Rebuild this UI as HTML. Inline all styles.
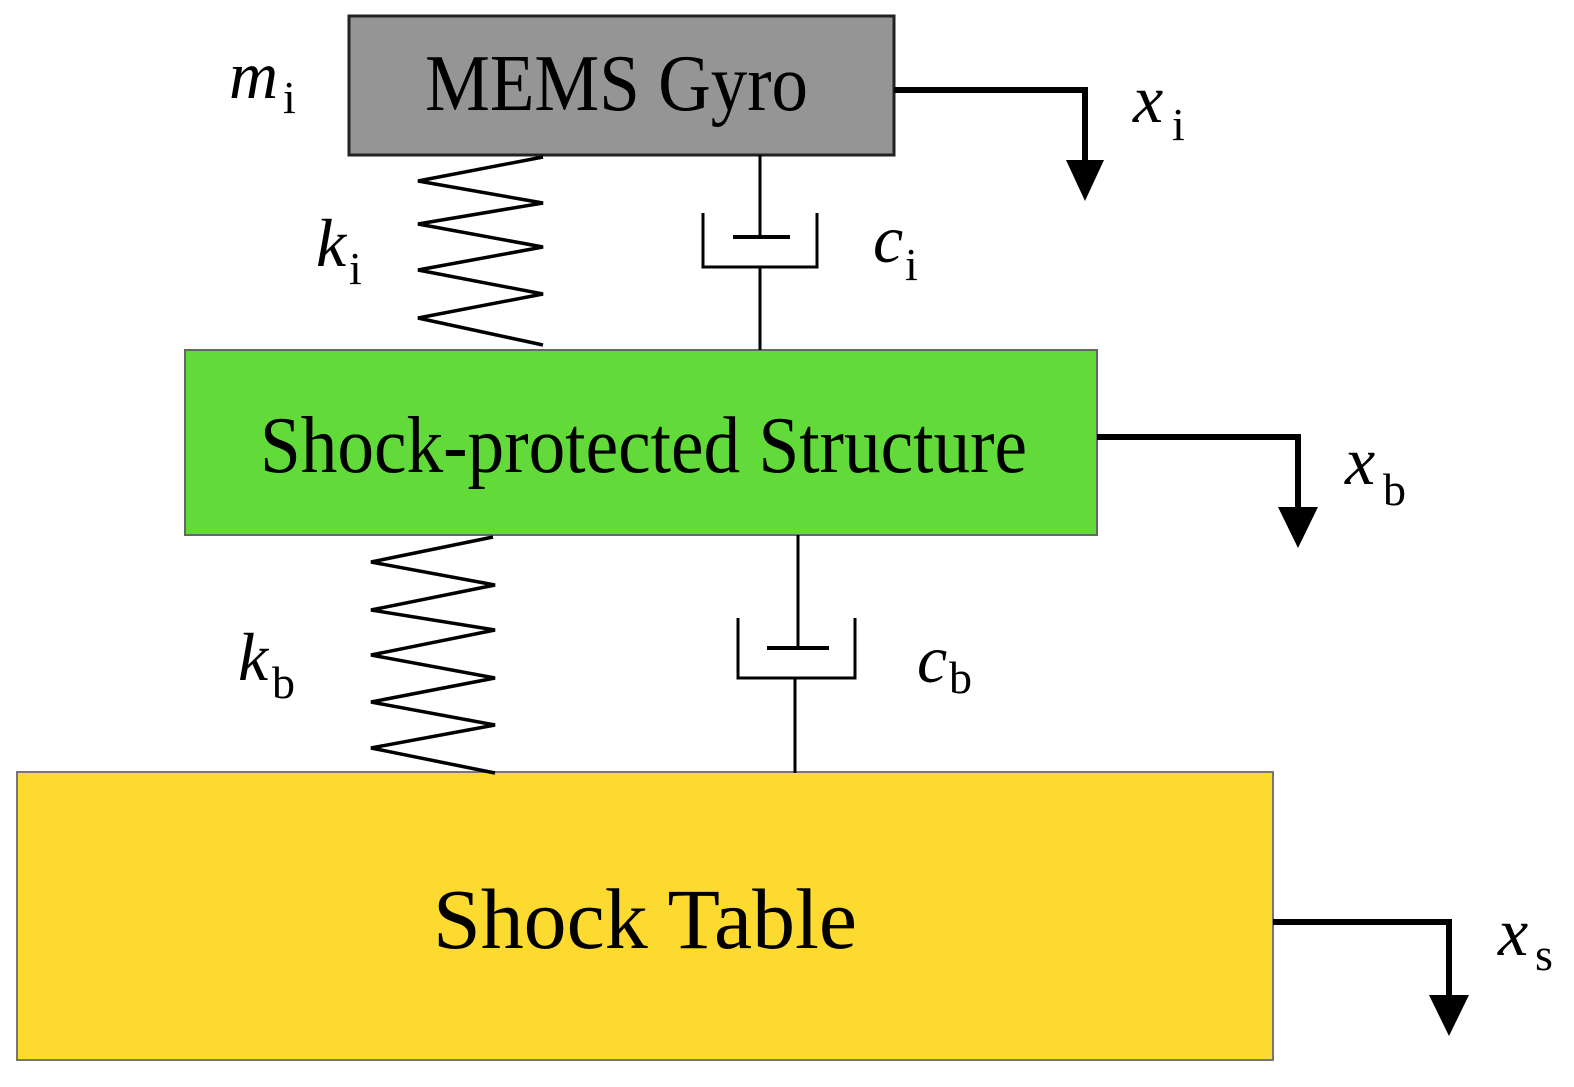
<!DOCTYPE html>
<html><head><meta charset="utf-8"><style>
html,body{margin:0;padding:0;background:#fff;}
svg{display:block;}
text{font-family:"Liberation Serif",serif;fill:#000;}
.it{font-style:italic;}
</style></head><body>
<svg width="1574" height="1087" viewBox="0 0 1574 1087" xmlns="http://www.w3.org/2000/svg">
<rect x="0" y="0" width="1574" height="1087" fill="#fff"/>
<rect x="349" y="16" width="545" height="139" fill="#959595" stroke="#222" stroke-width="3"/>
<rect x="185" y="350" width="912" height="185" fill="#62db3a" stroke="#666" stroke-width="2"/>
<rect x="17" y="772" width="1256" height="288" fill="#fdda30" stroke="#777" stroke-width="2"/>
<text x="425" y="110" font-size="80" textLength="383" lengthAdjust="spacingAndGlyphs">MEMS Gyro</text>
<text x="260" y="472" font-size="80" textLength="767" lengthAdjust="spacingAndGlyphs">Shock-protected Structure</text>
<text x="433" y="948" font-size="86" textLength="424" lengthAdjust="spacingAndGlyphs">Shock Table</text>
<polyline fill="none" stroke="#000" stroke-width="3.5" points="543,157 418,181 543,203 418,224 543,247 418,270 543,294 418,318 543,345"/>
<polyline fill="none" stroke="#000" stroke-width="3.5" points="493,537 371,562 495,585 371,610 495,630 371,655 495,678 371,702 495,725 371,748 495,773"/>
<g stroke="#000" stroke-width="3" fill="none">
<line x1="760" y1="155" x2="760" y2="237"/>
<line x1="733" y1="237" x2="790" y2="237" stroke-width="4"/>
<polyline points="703,213 703,267 817,267 817,213"/>
<line x1="760" y1="267" x2="760" y2="350"/>
<line x1="798" y1="535" x2="798" y2="648"/>
<line x1="767" y1="648" x2="829" y2="648" stroke-width="4"/>
<polyline points="738,618 738,678 855,678 855,618"/>
<line x1="795" y1="678" x2="795" y2="773"/>
</g>
<g stroke="#000" stroke-width="6" fill="none">
<polyline points="894,90 1085,90 1085,165"/>
<polyline points="1097,437 1298,437 1298,510"/>
<polyline points="1273,922 1449,922 1449,998"/>
</g>
<polygon points="1066,160 1104,160 1085,201" fill="#000"/>
<polygon points="1278,507 1318,507 1298,548" fill="#000"/>
<polygon points="1429,995 1469,995 1449,1036" fill="#000"/>
<text x="229" y="98" font-size="68" class="it">m</text><text x="283" y="113" font-size="46">i</text>
<text x="1133" y="122" font-size="68" class="it">x</text><text x="1172" y="140" font-size="46">i</text>
<text x="316" y="266" font-size="68" class="it">k</text><text x="349" y="284" font-size="46">i</text>
<text x="873" y="262" font-size="68" class="it">c</text><text x="905" y="280" font-size="46">i</text>
<text x="1345" y="484" font-size="68" class="it">x</text><text x="1383" y="505" font-size="46">b</text>
<text x="238" y="680" font-size="68" class="it">k</text><text x="272" y="698" font-size="46">b</text>
<text x="917" y="682" font-size="68" class="it">c</text><text x="949" y="693" font-size="46">b</text>
<text x="1498" y="955" font-size="68" class="it">x</text><text x="1535" y="970" font-size="46">s</text>
</svg>
</body></html>
